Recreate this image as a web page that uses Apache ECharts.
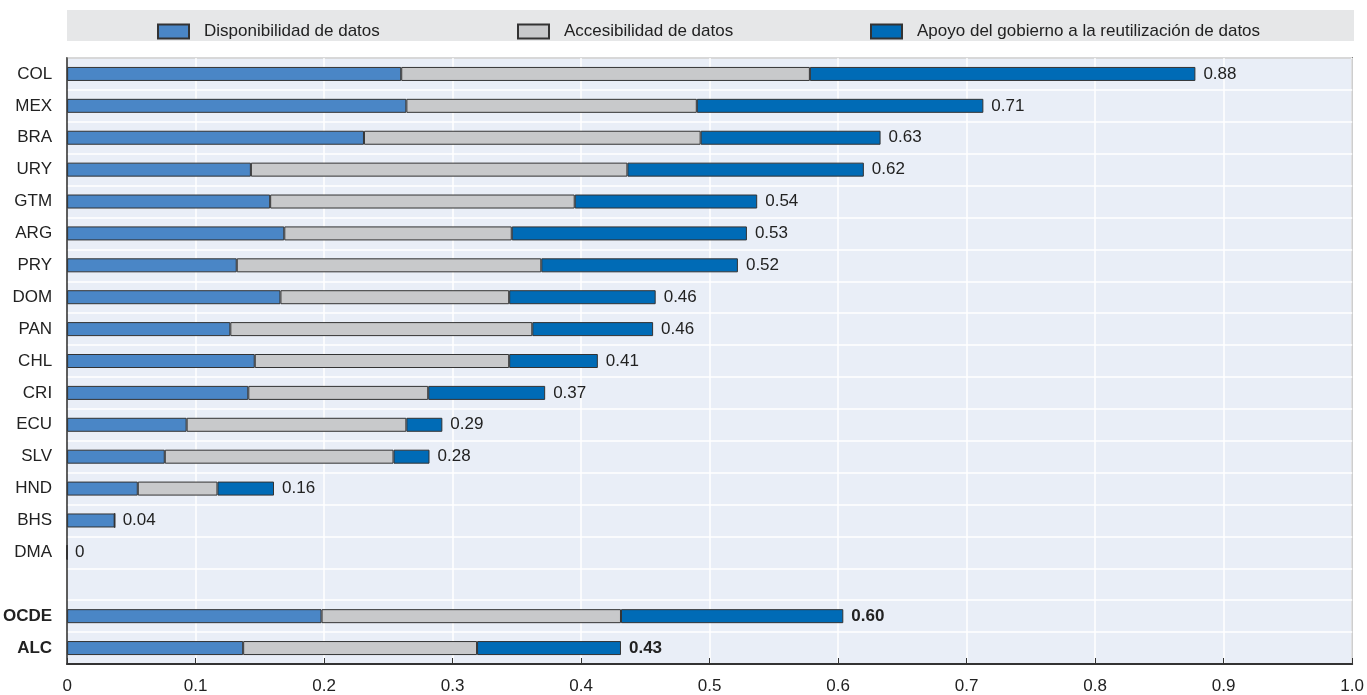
<!DOCTYPE html>
<html>
<head>
<meta charset="utf-8">
<script src="https://cdn.jsdelivr.net/npm/echarts@6/dist/echarts.min.js"></script>
<style>
  html, body { margin: 0; padding: 0; background: #fff; }
  #chart { width: 1367px; height: 695px; }
</style>
</head>
<body>
<div id="chart"></div>
<script>
// datos
const categories = ['COL', 'MEX', 'BRA', 'URY', 'GTM', 'ARG', 'PRY', 'DOM', 'PAN', 'CHL', 'CRI', 'ECU', 'SLV', 'HND', 'BHS', 'DMA', '', 'OCDE', 'ALC'];
const disponibilidad = [0.260, 0.264, 0.231, 0.143, 0.158, 0.169, 0.132, 0.166, 0.127, 0.146, 0.141, 0.093, 0.076, 0.055, 0.037, 0, '-', 0.198, 0.137];
const accesibilidad = [0.318, 0.226, 0.262, 0.293, 0.237, 0.177, 0.237, 0.178, 0.235, 0.198, 0.140, 0.171, 0.178, 0.062, 0, 0, '-', 0.233, 0.182];
const apoyo = [0.300, 0.223, 0.140, 0.184, 0.142, 0.183, 0.153, 0.114, 0.094, 0.069, 0.091, 0.028, 0.028, 0.044, 0, 0, '-', 0.173, 0.112];
const totalLabels = ['0.88', '0.71', '0.63', '0.62', '0.54', '0.53', '0.52', '0.46', '0.46', '0.41', '0.37', '0.29', '0.28', '0.16', '0.04', '0', '', '0.60', '0.43'];
const xTicks = ['0', '0.1', '0.2', '0.3', '0.4', '0.5', '0.6', '0.7', '0.8', '0.9', '1.0'];
const seriesNames = ['Disponibilidad de datos', 'Accesibilidad de datos', 'Apoyo del gobierno a la reutilización de datos'];

(function () {
  const myChart = echarts.init(document.getElementById('chart'));
  const font = "'Liberation Sans Narrow', 'Arial Narrow', sans-serif";
  const bold = ['OCDE', 'ALC'];

  const barStyle = (color) => ({
    color: color,
    borderColor: '#333',
    borderWidth: 1,
  });

  const legendItem = (name, left) => ({
    data: [name],
    left: left,
    top: 18,
    icon: 'rect',
    itemWidth: 31,
    itemHeight: 14,
    textStyle: {
      fontFamily: font,
      fontSize: 17,
      color: '#222',
      padding: [0, 0, 0, 10],
    },
  });

  const option = {
    animation: false,
    textStyle: { fontFamily: font },
    // franja gris de la leyenda
    graphic: [
      {
        type: 'rect',
        left: 67,
        top: 10,
        z: -10,
        shape: { width: 1287, height: 31 },
        style: { fill: '#e6e7e8' },
      },
    ],
    legend: [
      legendItem(seriesNames[0], 152),
      legendItem(seriesNames[1], 512),
      legendItem(seriesNames[2], 865),
    ],
    grid: {
      left: 67,
      right: 13,
      top: 58,
      bottom: 31,
      show: true,
      backgroundColor: '#e9eef7',
      borderColor: '#333',
      borderWidth: 1.5,
    },
    xAxis: {
      type: 'value',
      min: 0,
      max: 1,
      interval: 0.1,
      axisLine: { show: true, lineStyle: { color: '#333', width: 2 } },
      axisTick: { show: true, inside: true, length: 6, lineStyle: { color: '#333' } },
      splitLine: { lineStyle: { color: '#fff', width: 1.5 } },
      axisLabel: {
        color: '#222',
        fontSize: 17,
        fontFamily: font,
        margin: 14,
        formatter: (v) => xTicks[Math.round(v * 10)],
      },
    },
    yAxis: {
      type: 'category',
      data: categories,
      inverse: true,
      axisLine: { lineStyle: { color: '#333', width: 1.5 } },
      axisTick: { inside: true, length: 6, lineStyle: { color: '#333' } },
      splitLine: { show: true, lineStyle: { color: '#fff', width: 1.5 } },
      axisLabel: {
        color: '#222',
        fontSize: 17,
        fontFamily: font,
        margin: 15,
        formatter: (v) => (bold.includes(v) ? '{b|' + v + '}' : v),
        rich: {
          b: { fontWeight: 'bold', fontSize: 17, fontFamily: font, color: '#222' },
        },
      },
    },
    series: [
      {
        name: seriesNames[0],
        type: 'bar',
        stack: 'total',
        barWidth: 14,
        itemStyle: barStyle('#4a86c6'),
        data: disponibilidad,
      },
      {
        name: seriesNames[1],
        type: 'bar',
        stack: 'total',
        barWidth: 14,
        itemStyle: barStyle('#c8c9cb'),
        data: accesibilidad,
      },
      {
        name: seriesNames[2],
        type: 'bar',
        stack: 'total',
        barWidth: 14,
        itemStyle: barStyle('#006bb6'),
        data: apoyo,
      },
      {
        // etiquetas de total al final de cada barra
        name: 'total',
        type: 'bar',
        stack: 'total',
        barWidth: 14,
        silent: true,
        itemStyle: { color: 'rgba(0,0,0,0)' },
        data: categories.map((c) => (c === '' ? '-' : 0)),
        label: {
          show: true,
          position: 'right',
          distance: 8,
          color: '#222',
          fontSize: 17,
          fontFamily: font,
          formatter: (p) => {
            const t = totalLabels[p.dataIndex];
            return bold.includes(categories[p.dataIndex]) ? '{b|' + t + '}' : t;
          },
          rich: {
            b: { fontWeight: 'bold', fontSize: 17, fontFamily: font, color: '#222' },
          },
        },
      },
    ],
  };

  myChart.setOption(option);

  window.addEventListener('resize', () => {
    myChart.resize();
  });
})();
</script>
</body>
</html>
